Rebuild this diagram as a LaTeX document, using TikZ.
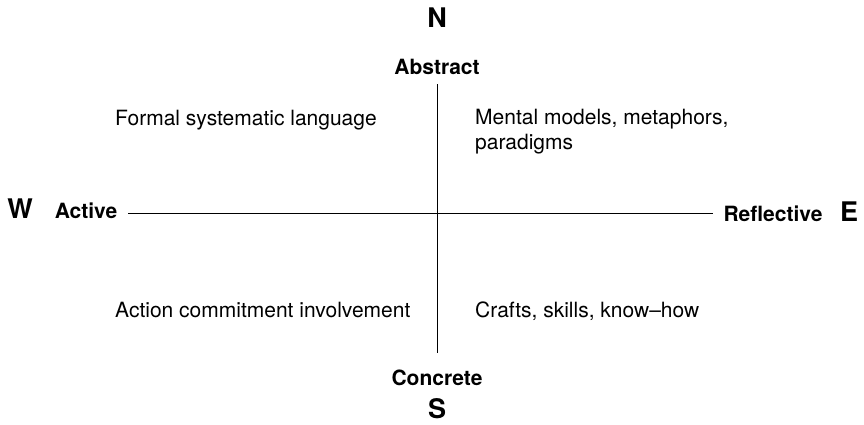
\documentclass[tikz,border=0pt]{standalone}
\usepackage{fontspec}
\setmainfont{TeX Gyre Heros}
\usepackage{tikz}

\begin{document}
\begin{tikzpicture}[x=1pt,y=-1pt,
  compass/.style={font=\fontsize{27}{30}\selectfont\bfseries,inner sep=0pt,anchor=base},
  pole/.style={font=\fontsize{21}{25}\selectfont\bfseries,inner sep=0pt,anchor=base},
  quad/.style={font=\fontsize{21}{25}\selectfont,inner sep=0pt,align=left,anchor=base west}]
  \useasboundingbox (0,0) rectangle (864,424);

  \node[compass] (N) at (437,27) {N};
  \node[compass] (S) at (437,418) {S};
  \node[compass] (W) at (20,218) {W};
  \node[compass] (E) at (849,221) {E};

  \node[pole] (abstract)   at (437,74)  {Abstract};
  \node[pole] (concrete)   at (437,385) {Concrete};
  \node[pole] (active)     at (86,218)  {Active};
  \node[pole] (reflective) at (773,221) {Reflective};

  \coordinate (top)    at (437,84);
  \coordinate (bottom) at (437,353);
  \coordinate (left)   at (128,213);
  \coordinate (right)  at (713,213);

  \draw[line width=1pt] (top) -- (bottom);
  \draw[line width=1pt] (left) -- (right);

  \node[quad] (formal) at (115,125) {Formal systematic language};
  \node[quad,anchor=north west] (mental) at (475,109) {Mental models, metaphors,\\paradigms};
  \node[quad] (action) at (115,317) {Action commitment involvement};
  \node[quad] (crafts) at (475,317) {Crafts, skills, know--how};
\end{tikzpicture}
\end{document}
